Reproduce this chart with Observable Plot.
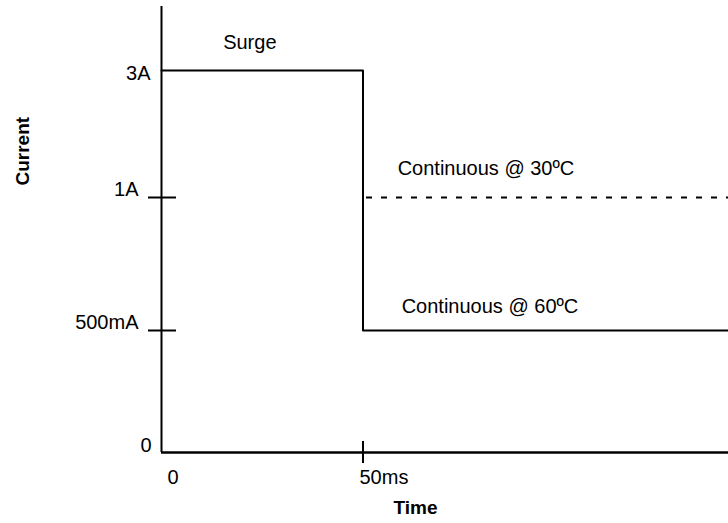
<!DOCTYPE html>
<html>
<head>
<meta charset="utf-8">
<script src="https://cdn.jsdelivr.net/npm/d3@7"></script>
<script src="https://cdn.jsdelivr.net/npm/@observablehq/plot@0.6"></script>
<style>
  html, body { margin: 0; padding: 0; background: #fff; }
</style>
</head>
<body>
<div id="chart"></div>
<script>
// Data
const stepTime = [0, 50, 140.7];          // ms
const stepCurrent = [3, 0.5, 0.5];        // A (surge then continuous @ 60ºC)
const dashTime = [50, 140.7];             // ms
const dashCurrent = 1;                    // A (continuous @ 30ºC)
const yTickValues = [3, 1, 0.5, 0];
const yTickLabels = ["3A", "1A", "500mA", "0"];
const yMarkedTicks = [1, 0.5];
const xTickValues = [0, 50];
const xTickLabels = ["0", "50ms"];
const xMarkedTicks = [50];
const annoLabels = ["Surge", "Continuous @ 30ºC", "Continuous @ 60ºC"];
const annoTime = [15.3, 58.6, 59.6];
const annoCurrent = [3, 1, 0.5];
const yTop = 4;
const xEnd = 140.7;

const step = stepTime.map((t, i) => ({t, a: stepCurrent[i]}));
const yTicks = yTickValues.map((v, i) => ({v, label: yTickLabels[i]}));
const xTicks = xTickValues.map((v, i) => ({v, label: xTickLabels[i]}));
const anno = annoLabels.map((label, i) => ({label, t: annoTime[i], a: annoCurrent[i]}));

// schematic (non-proportional) current axis
const schematic = d3.scaleLinear().domain([0, 0.5, 1, 3, 4]).range([0, 122, 255, 382, 446]);

const font = "'Liberation Sans', Arial, Helvetica, sans-serif";
const fs = 20;

const chart = Plot.plot({
  width: 728,
  height: 523,
  marginLeft: 161,
  marginRight: 0,
  marginTop: 6,
  marginBottom: 71,
  style: {fontFamily: font, fontSize: fs + "px", color: "#000", background: "#fff"},
  x: {domain: [0, xEnd], axis: null},
  y: {transform: schematic, axis: null},
  marks: [
    // axis lines
    Plot.ruleX([0], {y1: 0, y2: yTop, stroke: "#000", strokeWidth: 2}),
    Plot.ruleY([0], {x1: 0, x2: xEnd, stroke: "#000", strokeWidth: 2.5}),
    // tick marks
    Plot.ruleY(yMarkedTicks, {x1: 0, x2: 0, insetLeft: -13, insetRight: -15, stroke: "#000", strokeWidth: 2}),
    Plot.ruleX(xMarkedTicks, {y1: 0, y2: 0, insetTop: -11, insetBottom: -11, stroke: "#000", strokeWidth: 2}),
    // y tick labels
    Plot.text(yTicks.filter(d => yMarkedTicks.includes(d.v)), {x: 0, y: "v", text: "label", textAnchor: "end", dx: -23, dy: -8, fontSize: fs, fill: "#000"}),
    Plot.text(yTicks.filter(d => d.v === 3), {x: 0, y: "v", text: "label", textAnchor: "end", dx: -11, dy: 3, fontSize: fs, fill: "#000"}),
    Plot.text(yTicks.filter(d => d.v === 0), {x: 0, y: "v", text: "label", textAnchor: "end", dx: -10, dy: -7, fontSize: fs, fill: "#000"}),
    // x tick labels
    Plot.text(xTicks.filter(d => d.v === 0), {x: "v", y: 0, text: "label", textAnchor: "start", dx: 6, dy: 25, fontSize: fs, fill: "#000"}),
    Plot.text(xTicks.filter(d => d.v === 50), {x: "v", y: 0, text: "label", textAnchor: "start", dx: -3.5, dy: 25, fontSize: fs, fill: "#000"}),
    // curves
    Plot.line(step, {x: "t", y: "a", curve: "step-after", stroke: "#000", strokeWidth: 2}),
    Plot.ruleY([dashCurrent], {x1: dashTime[0], x2: dashTime[1], stroke: "#000", strokeWidth: 2, strokeDasharray: "6,9", strokeDashoffset: 11.5}),
    // annotations
    Plot.text(anno.filter(d => d.label === "Surge"), {x: "t", y: "a", text: "label", textAnchor: "start", dy: -28, fontSize: fs, fill: "#000"}),
    Plot.text(anno.filter(d => d.label.includes("30")), {x: "t", y: "a", text: "label", textAnchor: "start", dy: -29, fontSize: fs, fill: "#000"}),
    Plot.text(anno.filter(d => d.label.includes("60")), {x: "t", y: "a", text: "label", textAnchor: "start", dy: -24, fontSize: fs, fill: "#000"}),
    // axis titles
    Plot.text(["Time"], {frameAnchor: "bottom", text: d => d, dx: -29.5, dy: 61, fontWeight: "bold", fontSize: 19, fill: "#000"}),
    Plot.text(["Current"], {frameAnchor: "left", text: d => d, dx: -139, dy: -44, rotate: -90, fontWeight: "bold", fontSize: 19, fill: "#000"})
  ]
});
document.getElementById("chart").appendChild(chart);
</script>
</body>
</html>
